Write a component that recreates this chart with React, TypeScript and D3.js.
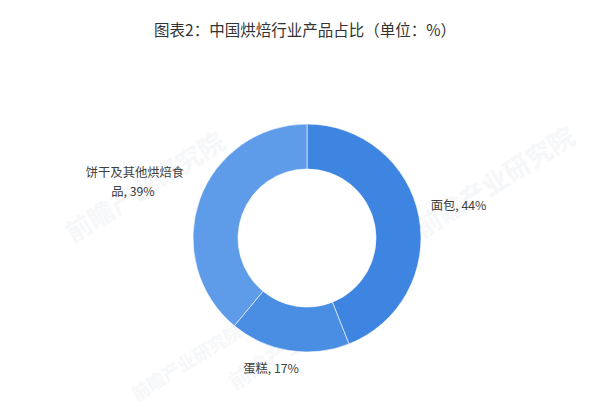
import { useEffect, useRef } from 'react';
import * as d3 from 'd3';

const categories = ['面包', '蛋糕', '饼干及其他烘焙食品'];
const shares = [44, 17, 39];
const colors = ['#3d85e0', '#4a8ee4', '#5e9ce9'];

const TITLE = '图表2：中国烘焙行业产品占比（单位：%）';
const WIDTH = 600;
const HEIGHT = 413;

export default function App() {
  const svgRef = useRef<SVGSVGElement>(null);

  useEffect(() => {
    if (!svgRef.current) return;
    const svg = d3.select(svgRef.current);
    svg.selectAll('*').remove();

    const font = '"Microsoft YaHei", "Noto Sans CJK SC", sans-serif';

    // faint watermarks
    const marks = [
      { x: 150, y: 195, s: 26 },
      { x: 500, y: 190, s: 26 },
      { x: 300, y: 350, s: 22 },
      { x: 190, y: 368, s: 18 },
    ];
    marks.forEach((m) => {
      svg.append('text')
        .attr('transform', `translate(${m.x},${m.y}) rotate(-32)`)
        .attr('text-anchor', 'middle')
        .attr('font-family', font)
        .attr('font-size', m.s)
        .attr('font-weight', 'bold')
        .attr('fill', '#eef1f5')
        .attr('opacity', 0.5)
        .text('前瞻产业研究院');
    });

    // title
    svg.append('text')
      .attr('x', 305)
      .attr('y', 36)
      .attr('text-anchor', 'middle')
      .attr('font-family', font)
      .attr('font-size', 15.5)
      .attr('fill', '#333')
      .text(TITLE);

    const cx = 307;
    const cy = 238;
    const outer = 114;
    const inner = 69;

    const pie = d3.pie<number>().sort(null).value((d) => d);
    const arcs = pie(shares);
    const arc = d3.arc<d3.PieArcDatum<number>>().innerRadius(inner).outerRadius(outer);

    const g = svg.append('g').attr('transform', `translate(${cx},${cy})`);
    g.selectAll('path')
      .data(arcs)
      .join('path')
      .attr('d', (d) => arc(d) || '')
      .attr('fill', (_, i) => colors[i])
      .attr('stroke', '#ffffff')
      .attr('stroke-width', 0.6);

    // labels
    const labelArc = d3.arc<d3.PieArcDatum<number>>().innerRadius(outer + 20).outerRadius(outer + 20);
    arcs.forEach((d, i) => {
      const [lx, ly] = labelArc.centroid(d);
      const mid = (d.startAngle + d.endAngle) / 2;
      const right = Math.sin(mid) > 0.3;
      const left = Math.sin(mid) < -0.3;
      const text = g.append('text')
        .attr('font-family', font)
        .attr('font-size', 12.3)
        .attr('fill', '#404040')
        .attr('text-anchor', right ? 'start' : 'middle');
      const label = `${categories[i]}, ${shares[i]}%`;
      if (left) {
        const first = categories[i].slice(0, 8);
        const rest = `${categories[i].slice(8)}, ${shares[i]}%`;
        const x = lx - 46;
        text.append('tspan').attr('x', x).attr('y', ly - 16).text(first);
        text.append('tspan').attr('x', x - 2).attr('y', ly + 3).text(rest);
      } else if (right) {
        text.attr('x', lx - 8).attr('y', ly - 3).text(label);
      } else {
        text.attr('x', lx - 15).attr('y', ly + 3).text(label);
      }
    });
  }, []);

  return (
    <svg
      ref={svgRef}
      width={WIDTH}
      height={HEIGHT}
      viewBox={`0 0 ${WIDTH} ${HEIGHT}`}
      style={{ display: 'block', position: 'absolute', left: 0, top: 0, background: '#fff' }}
    />
  );
}
